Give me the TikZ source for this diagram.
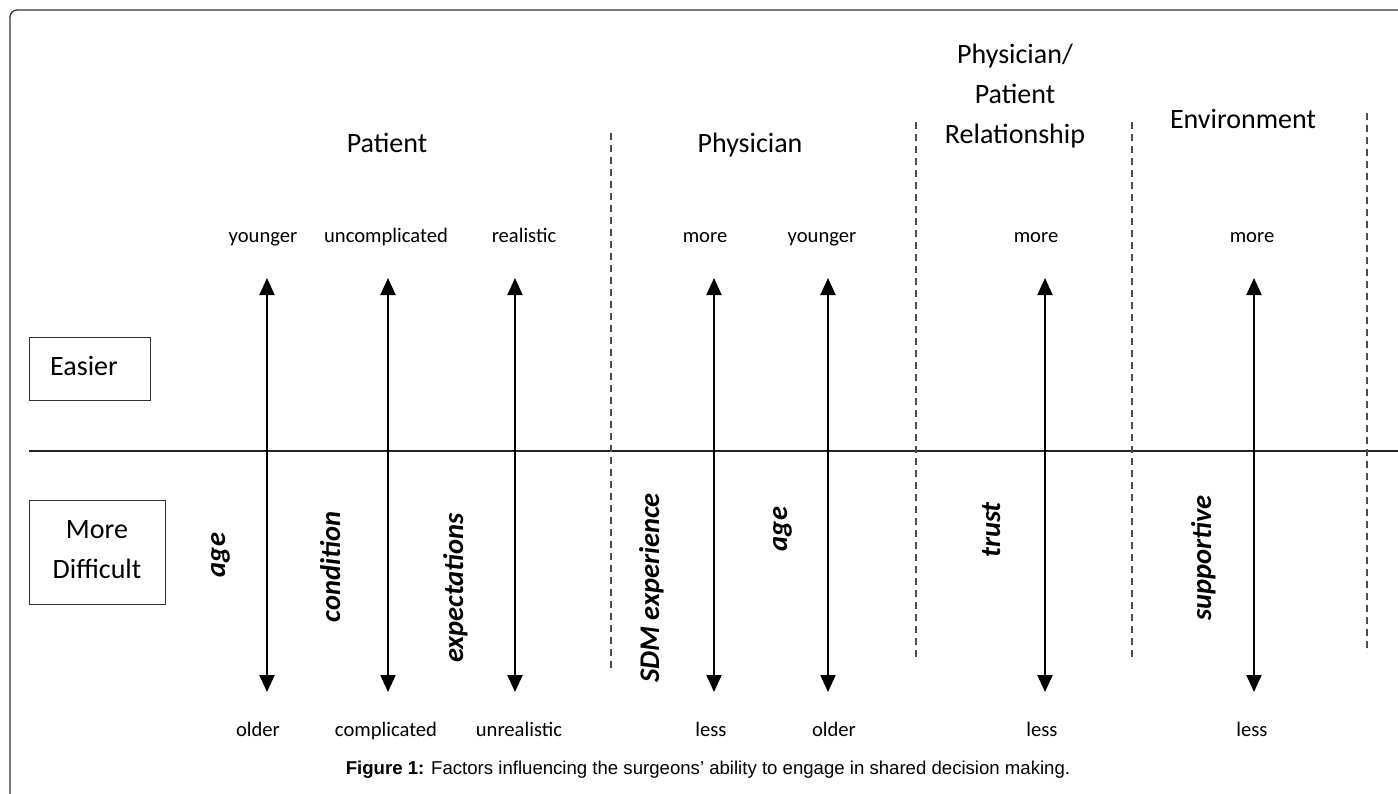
\documentclass[tikz,border=0pt]{standalone}
\usepackage{fontspec}
\setmainfont{Carlito}
\newfontfamily\capfont{Liberation Sans}
\usetikzlibrary{arrows.meta}

\tikzset{
  heading/.style={font=\fontsize{28}{40}\selectfont, align=center, inner sep=0pt, anchor=base},
  endlabel/.style={font=\fontsize{20.6}{24}\selectfont, inner sep=0pt, anchor=base},
  factor/.style={font=\fontsize{28.5}{32}\selectfont\bfseries\itshape, rotate=90, inner sep=0pt, anchor=base},
  levelbox/.style={draw=black!80, line width=1.2pt, anchor=north west},
  boxtext/.style={font=\fontsize{28}{40}\selectfont, inner sep=0pt, anchor=base},
  axis/.style={draw=black!85, line width=1.6pt},
  scale arrow/.style={draw=black, line width=2pt, {Triangle[width=15pt,length=17pt]}-{Triangle[width=15pt,length=17pt]}},
  divider/.style={draw=black!70, line width=1.3pt, dash pattern=on 7pt off 5pt},
}

\begin{document}
\begin{tikzpicture}[x=1pt, y=-1pt]
  \useasboundingbox (0,0) rectangle (1398,793);
  \fill[white] (0,0) rectangle (1398,793);

  % outer frame (only its top-left part lies on the page)
  \begin{scope}
    \clip (0,0) rectangle (1398,793);
    \draw[black!80, line width=1.3pt, rounded corners=7pt] (10,10) rectangle (1420,820);
  \end{scope}

  % level boxes
  \node[levelbox, minimum width=121pt, minimum height=63pt] (easier) at (29,337) {};
  \node[boxtext, anchor=base west] (easierText) at (50,375) {Easier};
  \node[levelbox, minimum width=136pt, minimum height=104pt] (harder) at (29,500) {};
  \node[boxtext] (harderText1) at (97,538) {More};
  \node[boxtext] (harderText2) at (97,578) {Difficult};

  % axis between easier and more difficult
  \coordinate (axL) at (29,451);
  \coordinate (axR) at (1398,451);
  \draw[axis] (axL) -- (axR);

  % group dividers
  \coordinate (d1t) at (611,133);  \coordinate (d1b) at (611,672);
  \coordinate (d2t) at (916,122);  \coordinate (d2b) at (916,662);
  \coordinate (d3t) at (1132,122); \coordinate (d3b) at (1132,662);
  \coordinate (d4t) at (1367,113); \coordinate (d4b) at (1367,653);
  \draw[divider] (d1t) -- (d1b);
  \draw[divider] (d2t) -- (d2b);
  \draw[divider] (d3t) -- (d3b);
  \draw[divider] (d4t) -- (d4b);

  % group headings
  \node[heading] (hPatient) at (387,152) {Patient};
  \node[heading] (hPhysician) at (750,152) {Physician};
  \node[heading] (hRel1) at (1015,63) {Physician/};
  \node[heading] (hRel2) at (1015,103) {Patient};
  \node[heading] (hRel3) at (1015,143) {Relationship};
  \node[heading] (hEnv) at (1243,128) {Environment};

  % scale arrows
  \foreach \n/\x in {a1/267, a2/388, a3/515, a4/714, a5/828, a6/1045, a7/1254}{
    \coordinate (\n t) at (\x,278);
    \coordinate (\n b) at (\x,692);
    \draw[scale arrow] (\n t) -- (\n b);
  }

  % easier ends
  \node[endlabel] (t1) at (263,242) {younger};
  \node[endlabel] (t2) at (386,242) {uncomplicated};
  \node[endlabel] (t3) at (524,242) {realistic};
  \node[endlabel] (t4) at (705,242) {more};
  \node[endlabel] (t5) at (822,242) {younger};
  \node[endlabel] (t6) at (1036,242) {more};
  \node[endlabel] (t7) at (1252,242) {more};

  % more difficult ends
  \node[endlabel] (b1) at (258,736) {older};
  \node[endlabel] (b2) at (386,736) {complicated};
  \node[endlabel] (b3) at (519,736) {unrealistic};
  \node[endlabel] (b4) at (711,736) {less};
  \node[endlabel] (b5) at (834,736) {older};
  \node[endlabel] (b6) at (1042,736) {less};
  \node[endlabel] (b7) at (1252,736) {less};

  % factors, read from bottom to top
  \node[factor] (fAge) at (225,555) {age};
  \node[factor] (fCond) at (340,567) {condition};
  \node[factor] (fExp) at (463,588) {expectations};
  \node[factor] (fSdm) at (659,588) {SDM experience};
  \node[factor] (fAge2) at (787,529) {age};
  \node[factor] (fTrust) at (1000,530) {trust};
  \node[factor] (fSupp) at (1211,558) {supportive};

  % caption
  \node[font=\capfont\fontsize{18.6}{22}\selectfont, inner sep=0pt, anchor=base] (caption) at (708,774)
    {\textbf{Figure 1:} Factors influencing the surgeons’ ability to engage in shared decision making.};
\end{tikzpicture}
\end{document}
